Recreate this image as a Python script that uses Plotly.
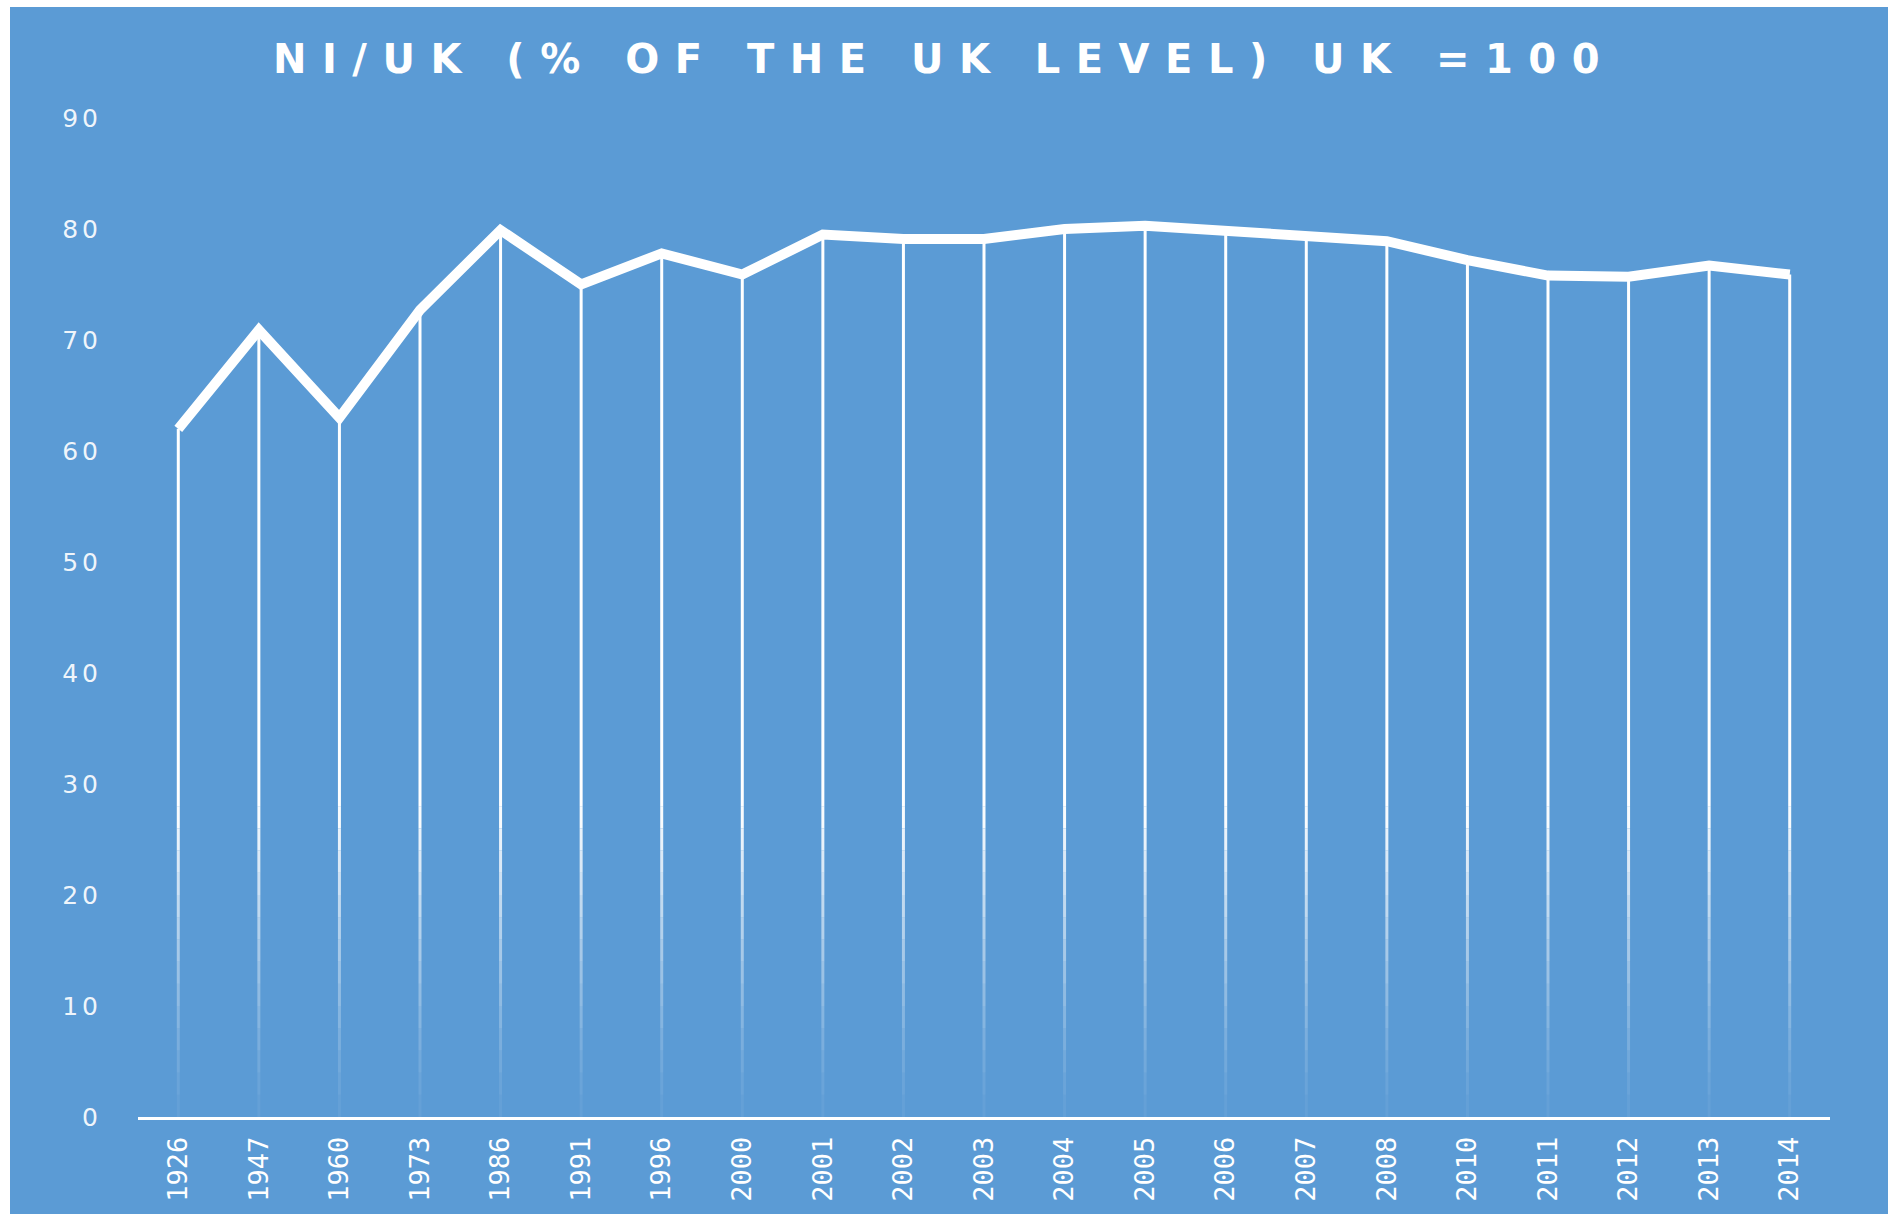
import plotly.graph_objects as go

years = ["1926", "1947", "1960", "1973", "1986", "1991", "1996", "2000", "2001", "2002",
         "2003", "2004", "2005", "2006", "2007", "2008", "2010", "2011", "2012", "2013", "2014"]
ni_uk = [62.0, 70.9, 63.0, 72.7, 79.9, 75.0, 77.8, 75.9, 79.5, 79.1,
         79.1, 80.0, 80.3, 79.9, 79.4, 78.9, 77.2, 75.8, 75.7, 76.7, 75.9]
y_ticks = [0, 10, 20, 30, 40, 50, 60, 70, 80, 90]

BG = "#5B9BD5"
W, H = 1888, 1214
ML, MR, MT, MB = 138, 58, 118, 97

fig = go.Figure()

# drop lines, fading toward the axis
fade_top = 28.0
n_steps = 14
for k in range(n_steps):
    lo = fade_top * k / n_steps
    hi = fade_top * (k + 1) / n_steps
    xs, ys = [], []
    for c, v in zip(years, ni_uk):
        xs += [c, c, None]
        ys += [lo, min(hi, v), None]
    op = 0.04 + 0.96 * ((k + 0.5) / n_steps) ** 1.3
    fig.add_trace(go.Scatter(x=xs, y=ys, mode="lines",
                             line=dict(color="rgba(255,255,255,%.3f)" % op, width=3),
                             hoverinfo="skip", showlegend=False))
xs, ys = [], []
for c, v in zip(years, ni_uk):
    xs += [c, c, None]
    ys += [fade_top, v, None]
fig.add_trace(go.Scatter(x=xs, y=ys, mode="lines",
                         line=dict(color="white", width=3),
                         hoverinfo="skip", showlegend=False))

fig.add_trace(go.Scatter(x=years, y=ni_uk, mode="lines",
                         line=dict(color="white", width=10),
                         name="NI/UK", showlegend=False))

pw = W - ML - MR
ph = H - MT - MB
fig.add_shape(type="rect", xref="paper", yref="paper", layer="below",
              x0=(10 - ML) / pw, x1=(W - ML + 5) / pw,
              y0=-(MB + 5) / ph, y1=(H - MB - 7) / ph,
              fillcolor=BG, line=dict(width=0))

fig.update_layout(
    width=W, height=H,
    margin=dict(l=ML, r=MR, t=MT, b=MB, autoexpand=False),
    paper_bgcolor="white",
    plot_bgcolor="rgba(0,0,0,0)",
    title=dict(
        text='<span style="letter-spacing:15.5px">NI/UK (% OF THE UK LEVEL) UK =100</span>',
        x=0.5, xref="container", xanchor="center",
        y=1 - 59 / H, yref="container", yanchor="middle",
        font=dict(family="DejaVu Sans", size=40, color="white", weight="bold"),
    ),
    xaxis=dict(
        type="category", range=[-0.5, len(years) - 0.5], automargin=False,
        showgrid=False, zeroline=False,
        showline=True, linecolor="white", linewidth=3,
        ticks="outside", ticklen=6, tickcolor="rgba(0,0,0,0)",
        tickangle=-90,
        tickfont=dict(family="DejaVu Sans Mono", size=27, color="white"),
    ),
    yaxis=dict(
        range=[0, 90], automargin=False,
        showgrid=False, zeroline=False, showline=False,
        tickvals=y_ticks,
        ticktext=['<span style="letter-spacing:4px">%d</span>' % v for v in y_ticks],
        ticks="outside", ticklen=30, tickcolor="rgba(0,0,0,0)",
        tickfont=dict(family="DejaVu Sans", size=25, color="rgba(255,255,255,0.92)"),
    ),
)

fig.write_html("out.html", config={"displayModeBar": False},
               post_script="document.body.style.margin='0';document.body.style.overflow='hidden';")
